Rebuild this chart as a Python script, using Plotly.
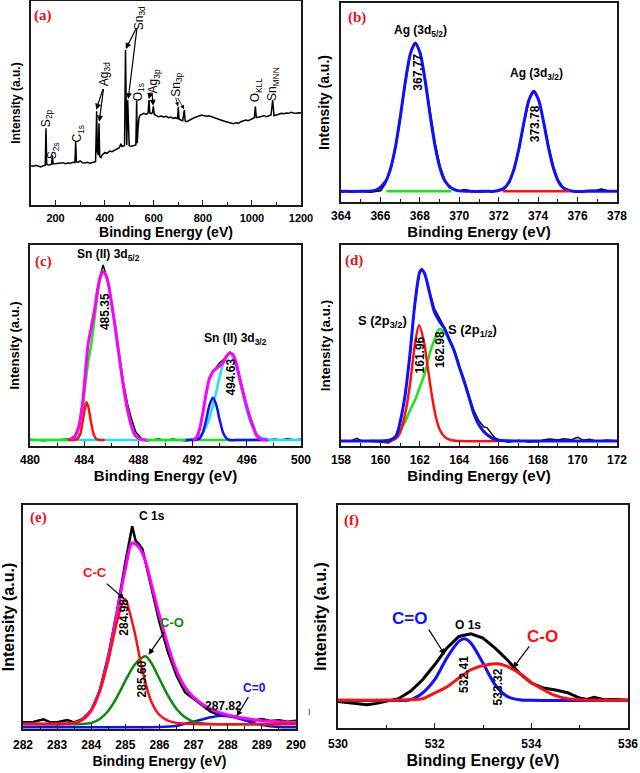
import plotly.graph_objects as go

W, H = 640, 773

# ---------------- (a) survey spectrum ----------------
survey_ev = [100, 110, 120, 130, 140, 150, 158, 161, 164, 170, 180, 184, 187, 190, 200, 210, 220, 230, 240, 250,
             260, 270, 279, 282, 285, 290, 300, 310, 320, 330, 340, 350, 358, 363, 367.5, 370, 374, 377, 380, 385,
             390, 400, 410, 420, 430, 440, 450, 460, 466, 470, 476, 481, 485, 488, 490, 494, 497, 500, 510, 520,
             527, 530.5, 533, 536, 540, 545, 550, 560, 570, 577, 580.7, 584, 590, 595, 598.4, 602, 610, 620, 630, 640,
             650, 660, 670, 680, 690, 697, 700, 703, 710, 718, 724.6, 728, 735, 745, 755, 765, 775, 785, 795, 805,
             815, 825, 835, 845, 855, 865, 875, 885, 895, 905, 915, 925, 935, 945, 955, 965, 975, 985, 995, 1005,
             1010, 1014, 1018, 1030, 1040, 1050, 1060, 1070, 1078, 1084.5, 1090, 1100, 1110, 1120, 1130, 1140, 1150, 1160, 1170, 1180,
             1190, 1200]
survey_counts = [118, 116, 119, 117, 114, 118, 119, 230, 122, 120, 121, 124, 149, 123, 124, 126, 125, 127, 124, 126,
                 125, 128, 127, 191, 130, 128, 132, 127, 126, 128, 125, 127, 128, 130, 281, 160, 150, 245, 145, 142,
                 150, 157, 155, 162, 160, 165, 168, 172, 184, 176, 178, 178, 465, 182, 180, 315, 180, 178, 176, 178,
                 180, 313, 185, 230, 262, 270, 272, 275, 272, 276, 315, 276, 274, 277, 296, 272, 268, 265, 267, 264,
                 266, 262, 264, 260, 262, 258, 295, 258, 255, 253, 285, 252, 250, 255, 258, 262, 265, 268, 270, 268,
                 266, 268, 265, 262, 260, 258, 255, 252, 250, 248, 246, 244, 247, 245, 250, 252, 255, 253, 257, 260,
                 262, 295, 262, 264, 266, 268, 265, 268, 270, 315, 268, 270, 272, 275, 274, 276, 275, 278, 276, 275,
                 277, 276]

# ---------------- (b) Ag 3d ----------------
b_data_ev = [364, 364.5, 365, 365.5, 366, 366.27, 366.52, 366.77, 367.02, 367.27, 367.52, 367.77, 368.02, 368.27,
             368.52, 368.77, 369.02, 369.27, 369.5, 370, 370.3, 370.6, 371, 371.5, 372, 372.28, 372.53, 372.78,
             373.03, 373.28, 373.53, 373.78, 374.03, 374.28, 374.53, 374.78, 375.03, 375.28, 375.6, 376, 376.5,
             377, 377.2, 377.5, 378]
b_data = [31, 33, 32, 30, 34, 58, 98, 165, 258, 362, 446, 478, 448, 368, 268, 175, 106, 64, 44, 33, 37, 32, 31, 33,
          34, 40, 58, 97, 160, 238, 306, 333, 306, 240, 165, 104, 63, 43, 34, 32, 33, 35, 38, 34, 33]
b_fit_ev = [364, 365, 365.77, 366.27, 366.52, 366.77, 367.02, 367.27, 367.52, 367.77, 368.02, 368.27, 368.52,
            368.77, 369.02, 369.27, 369.77, 370.5, 371.5, 371.78, 372.28, 372.53, 372.78, 373.03, 373.28, 373.53,
            373.78, 374.03, 374.28, 374.53, 374.78, 375.03, 375.28, 375.78, 376.5, 377.2, 378]
b_fit = [32, 32, 36, 63, 102, 168, 261, 363, 445, 477, 445, 363, 261, 168, 102, 63, 36, 32, 32, 32, 42, 61, 100,
         162, 239, 305, 332, 305, 239, 162, 100, 61, 42, 32, 32, 32, 32]
b_green_ev = [366.3, 369.6]
b_green = [32, 32]
b_red_ev = [372.2, 375.6]
b_red = [32, 32]

# ---------------- (c) Sn 3d ----------------
c_ev = [480, 480.5, 481, 481.5, 482, 482.5, 483, 483.3, 483.6, 483.9, 484.1, 484.3, 484.5, 484.8, 485.0, 485.2,
        485.4, 485.6, 485.8, 486.0, 486.3, 486.6, 486.9, 487.2, 487.5, 487.8, 488.2, 488.6, 489, 489.5, 490, 490.5,
        491, 491.5, 492, 492.25, 492.5, 492.75, 493, 493.25, 493.5, 493.75, 494, 494.25, 494.5, 494.75, 495, 495.25,
        495.5, 495.75, 496, 496.25, 496.5, 496.75, 497, 497.5, 498, 498.5, 499, 499.5, 500]
c_data = [2, 0, -2, 1, 0, 2, 4, 12, 42, 120, 210, 292, 335, 405, 455, 495, 525, 500, 468, 418, 338, 250, 172, 108,
          62, 25, 5, -3, 0, 4, -2, 3, 0, -3, 2, 6, 30, 82, 140, 188, 205, 220, 232, 240, 254, 264, 256, 228, 184, 142,
          104, 70, 40, 15, 4, -2, 3, 0, 4, 1, 2]
c_env = [None, None, None, None, None, None, 3, 10, 40, 118, 210, 290, 332, 400, 455, 492, 505, 495, 465, 415, 335,
         245, 160, 90, 40, 12, 2, 0, None, None, None, None, None, None, 0, 5, 30, 80, 140, 185, 205, 215, 222, 232,
         250, 260, 255, 225, 180, 138, 100, 65, 35, 12, 3, 0, None, None, None, None, None]
c_green_ev = [480, 482.5, 483, 483.3, 483.6, 483.9, 484.1, 484.3, 484.5, 484.8, 485.0, 485.2, 485.4, 485.6, 485.8,
              486.0, 486.3, 486.6, 486.9, 487.2, 487.5, 487.8, 488.2, 488.6, 490, 492, 494, 497]
c_green = [0, 0, 1, 8, 35, 100, 170, 235, 280, 375, 440, 485, 505, 495, 465, 415, 335, 245, 160, 90, 40, 12, 2, 0,
           0, 0, 0, 0]
c_red_ev = [482.8, 483.2, 483.5, 483.7, 483.9, 484.0, 484.16, 484.3, 484.5, 484.7, 484.9, 485.2, 485.5]
c_red = [0, 0, 4, 17, 59, 82, 113, 100, 54, 17, 3, 0, 0]
c_cyan_ev = [480, 484, 488, 491, 492, 492.5, 492.75, 493, 493.25, 493.5, 493.75, 494, 494.25, 494.5, 494.75, 495,
             495.25, 495.5, 495.75, 496, 496.25, 496.5, 496.75, 497, 497.5, 498, 500]
c_cyan = [0, 0, 0, 0, 2, 11, 22, 40, 67, 103, 145, 190, 228, 253, 260, 245, 214, 172, 128, 87, 55, 32, 17, 9, 2, 0, 0]
c_blue_ev = [491.5, 492.5, 492.75, 493.0, 493.25, 493.5, 493.75, 494.0, 494.25, 494.5, 494.75, 495.5, 497.5]
c_blue = [0, 4, 22, 60, 105, 127, 105, 60, 22, 5, 0, 0, 0]

# ---------------- (d) S 2p ----------------
d_data_ev = [158, 158.5, 158.8, 159.1, 159.5, 160, 160.4, 160.7, 161.0, 161.25, 161.5, 161.75, 162.0, 162.1, 162.25,
             162.5, 162.75, 163.0, 163.25, 163.5, 163.75, 164.0, 164.25, 164.5, 164.75, 165.0, 165.25, 165.4, 165.6,
             165.8, 166.1, 166.5, 167, 167.5, 168, 168.3, 168.6, 169, 169.3, 169.7, 170, 170.3, 170.6, 171, 171.5, 172]
d_data = [1, 0, 8, -1, 1, -3, -6, 5, 52, 132, 258, 410, 510, 516, 503, 447, 395, 368, 340, 305, 271, 224, 180, 135,
          90, 60, 42, 40, 25, 10, 1, -4, 2, -3, -2, 4, 6, 3, 7, 4, 11, 2, 5, -1, 3, 0]
d_fit_ev = [158, 159, 160, 160.5, 160.8, 161.0, 161.25, 161.5, 161.75, 162.0, 162.1, 162.25, 162.5, 162.75, 163.0,
            163.25, 163.5, 163.75, 164.0, 164.25, 164.5, 164.75, 165.0, 165.25, 165.5, 165.75, 166.0, 167, 168, 170, 172]
d_fit = [0, 0, 0, 3, 15, 57, 137, 262, 412, 507, 512, 500, 442, 385, 358, 337, 303, 269, 222, 178, 130, 80, 48, 28,
         15, 6, 2, 0, 0, 0, 0]
d_red_ev = [159.5, 160.5, 160.8, 161.0, 161.25, 161.5, 161.75, 161.96, 162.2, 162.4, 162.6, 162.8, 163.0, 163.3,
            163.6, 164.0, 166]
d_red = [0, 0, 8, 25, 80, 170, 290, 347, 300, 220, 140, 75, 35, 10, 2, 0, 0]
d_green_ev = [159.5, 160.5, 160.75, 161.0, 161.25, 161.5, 161.75, 162.0, 162.25, 162.5, 162.75, 162.98, 163.25,
              163.5, 163.75, 164.0, 164.25, 164.5, 164.75, 165.0, 165.25, 165.5, 165.75, 166.0, 166.5]
d_green = [0, 3, 12, 32, 57, 92, 122, 162, 202, 262, 305, 335, 325, 300, 268, 222, 178, 130, 80, 48, 28, 15, 6, 2, 0]

# ---------------- (e) C 1s ----------------
e_data_ev = [282.0, 282.3, 282.6, 282.8, 283.0, 283.3, 283.5, 283.75, 284.0, 284.25, 284.5, 284.75, 285.0, 285.1,
             285.2, 285.3, 285.4, 285.5, 285.75, 286.0, 286.25, 286.5, 286.75, 287.0, 287.25, 287.5, 287.75, 288.0,
             288.25, 288.5, 288.75, 289.0, 289.25, 289.5, 289.75, 290.0]
e_data = [20, 21, 29, 20, 20, 27, 20, 30, 55, 115, 220, 350, 500, 560, 608, 565, 555, 540, 430, 320, 230, 160, 110,
          90, 70, 52, 42, 40, 35, 28, 25, 30, 24, 26, 22, 25]
e_env_ev = [282, 283, 283.5, 283.75, 284.0, 284.25, 284.5, 284.75, 285.0, 285.2, 285.4, 285.6, 285.75, 286.0, 286.25,
            286.5, 286.75, 287.0, 287.25, 287.5, 287.75, 288.0, 288.5, 289, 290]
e_env = [15, 15, 18, 28, 55, 115, 215, 345, 480, 558, 545, 500, 440, 340, 250, 175, 125, 95, 75, 60, 50, 42, 32, 25, 20]
e_cc_ev = [282, 283, 283.5, 283.75, 284.0, 284.25, 284.5, 284.75, 284.98, 285.25, 285.5, 285.75, 286.0, 286.25,
           286.5, 287, 290]
e_cc = [15, 15, 18, 30, 58, 115, 205, 320, 390, 300, 175, 85, 42, 25, 18, 15, 15]
e_co_ev = [282, 283.75, 284.0, 284.25, 284.5, 284.75, 285.0, 285.25, 285.5, 285.6, 285.75, 286.0, 286.25, 286.5,
           286.75, 287.0, 287.25, 287.5, 290]
e_co = [15, 15, 18, 30, 55, 95, 145, 190, 215, 218, 200, 150, 100, 60, 35, 22, 17, 15, 15]
e_c0_ev = [282, 285, 286.0, 286.5, 287.0, 287.5, 287.82, 288.25, 288.5, 288.75, 289.0, 289.5, 290]
e_c0 = [5, 5, 6, 10, 22, 35, 40, 34, 26, 18, 12, 6, 5]

# ---------------- (f) O 1s ----------------
f_data_ev = [530.0, 530.3, 530.6, 530.8, 531.0, 531.25, 531.5, 531.75, 532.0, 532.25, 532.5, 532.75, 533.0, 533.25,
             533.5, 533.75, 534.0, 534.25, 534.5, 534.75, 535.0, 535.15, 535.3, 535.5, 535.75, 536.0]
f_data = [80, 76, 70, 74, 80, 88, 110, 145, 190, 240, 275, 283, 270, 240, 205, 165, 135, 120, 114, 106, 90, 86, 92,
          85, 86, 83]
f_cdo_ev = [530, 531, 531.5, 531.75, 532.0, 532.25, 532.5, 532.62, 532.75, 533.0, 533.25, 533.5, 533.75, 534.0, 536]
f_cdo = [83, 83, 85, 105, 145, 210, 260, 268, 255, 195, 130, 95, 85, 83, 83]
f_co_ev = [530, 531.5, 531.75, 532.0, 532.25, 532.5, 532.75, 533.0, 533.3, 533.5, 533.75, 534.0, 534.25, 534.5,
           534.75, 535.0, 536]
f_co = [83, 85, 88, 105, 123, 150, 175, 188, 193, 185, 165, 137, 115, 97, 88, 85, 83]

# ---------------- figure ----------------
SANS = "Liberation Sans, Arial, sans-serif"
NARROW = "Liberation Sans Narrow, Arial Narrow, Liberation Sans, Arial, sans-serif"
SERIF = "Liberation Serif, Times New Roman, serif"

BLACK = "#000000"
BLUE = "#1010ff"
RED = "#ff1010"
LIME = "#19e619"
MAGENTA = "#ff00ff"
CYAN = "#19e6e6"
DGREEN = "#0a8a0a"

fig = go.Figure()

def dom_x(l, r):
    return [l / W, r / W]

def dom_y(t, b):
    return [1 - b / H, 1 - t / H]

panels = {
    # id: (x-dom px, y-dom px, x range, y range, dtick, minor, tick size, x-title size, y-title size, family,
    #      title standoff, tick-label standoff)
    "": ((31, 301), (1, 205), (100, 1200), (0, 612), 200, 100, 11, 14, 12, SANS, 3, 2),
    "2": ((341, 617), (3, 202), (364, 378), (0, 597), 2, 1, 12, 15, 14, SANS, 3, 2),
    "3": ((30, 301), (245, 446), (480, 500), (-18, 585), 4, 2, 12, 15, 13, SANS, 3, 2),
    "4": ((341, 617), (245, 446), (158, 172), (-15, 587), 2, 1, 12, 15, 13.5, SANS, 3, 2),
    "5": ((23, 296), (505, 729), (282, 290), (0, 672), 1, 0.5, 12, 14, 16, NARROW, 5, 4),
    "6": ((338, 628), (505, 728), (530, 536), (0, 670), 2, 1, 12, 16, 16, SANS, 5, 4),
}

layout_axes = {}
for pid, (xd, yd, xr, yr, dt, mdt, tfs, tts, yts, fam, so, tso) in panels.items():
    layout_axes["xaxis" + pid] = dict(
        domain=dom_x(*xd), range=list(xr), anchor="y" + pid,
        showline=True, mirror=True, linecolor="#1a1a1a", linewidth=1.5,
        ticks="inside", ticklen=5, tickwidth=1.2, tickcolor="#1a1a1a",
        tick0=xr[0] if pid != "" else 200, dtick=dt, ticklabelstandoff=tso,
        minor=dict(ticks="inside", ticklen=3, tickwidth=1, tickcolor="#1a1a1a", dtick=mdt, showgrid=False),
        showgrid=False, zeroline=False, automargin=False,
        tickfont=dict(family=fam, size=tfs, color=BLACK, weight="bold"),
        title=dict(text="Binding Energy (eV)", standoff=so,
                   font=dict(family=fam, size=tts, color=BLACK, weight="bold")),
    )
    layout_axes["yaxis" + pid] = dict(
        domain=dom_y(*yd), range=list(yr), anchor="x" + pid,
        showline=True, mirror=True, linecolor="#1a1a1a", linewidth=1.5,
        ticks="", showticklabels=False, showgrid=False, zeroline=False, automargin=False,
        title=dict(text="Intensity (a.u.)", standoff=6,
                   font=dict(family=SANS, size=yts, color=BLACK, weight="bold")),
    )

def line(pid, x, y, color, width, shape="spline", name=""):
    fig.add_trace(go.Scatter(
        x=x, y=y, mode="lines", name=name, showlegend=False,
        line=dict(color=color, width=width, shape=shape, smoothing=0.8 if shape == "spline" else None),
        xaxis="x" + pid, yaxis="y" + pid, hoverinfo="skip"))

# (a)
line("", survey_ev, survey_counts, BLACK, 1.5, "linear", "Survey")
# (b)
line("2", b_data_ev, b_data, BLACK, 2.0, "linear", "Ag 3d data")
line("2", b_fit_ev, b_fit, BLUE, 3.0, "spline", "Ag 3d fit")
line("2", b_green_ev, b_green, LIME, 2.5, "linear", "Ag 3d5/2 base")
line("2", b_red_ev, b_red, RED, 2.5, "linear", "Ag 3d3/2 base")
# (c)
line("3", c_ev, c_data, BLACK, 1.5, "linear", "Sn 3d data")
line("3", c_cyan_ev, c_cyan, CYAN, 2.5, "spline", "Sn 3d3/2 (a)")
line("3", c_green_ev, c_green, LIME, 2.5, "spline", "Sn 3d5/2 (a)")
line("3", c_red_ev, c_red, RED, 2.5, "spline", "Sn 3d5/2 (b)")
line("3", c_blue_ev, c_blue, BLUE, 2.5, "spline", "Sn 3d3/2 (b)")
line("3", c_ev, c_env, MAGENTA, 3.0, "spline", "Sn 3d envelope")
# (d)
line("4", d_data_ev, d_data, BLACK, 1.5, "linear", "S 2p data")
line("4", d_green_ev, d_green, LIME, 2.5, "spline", "S 2p1/2")
line("4", d_red_ev, d_red, RED, 2.5, "spline", "S 2p3/2")
line("4", d_fit_ev, d_fit, BLUE, 3.0, "spline", "S 2p fit")
# (e)
line("5", e_data_ev, e_data, BLACK, 2.5, "linear", "C 1s data")
line("5", e_c0_ev, e_c0, BLUE, 2.5, "spline", "C=O")
line("5", e_env_ev, e_env, MAGENTA, 3.0, "spline", "C 1s envelope")
line("5", e_co_ev, e_co, DGREEN, 2.5, "spline", "C-O")
line("5", e_cc_ev, e_cc, RED, 2.5, "spline", "C-C")
# (f)
line("6", f_data_ev, f_data, BLACK, 3.0, "linear", "O 1s data")
line("6", f_cdo_ev, f_cdo, BLUE, 3.0, "spline", "C=O")
line("6", f_co_ev, f_co, RED, 3.0, "spline", "C-O")

ann = []

def txt(pid, x, y, text, size=12, color=BLACK, angle=0, family=SANS, bold=True):
    ann.append(dict(xref="x" + pid, yref="y" + pid, x=x, y=y, text=text, showarrow=False,
                    textangle=angle, xanchor="center", yanchor="middle",
                    font=dict(family=family, size=size, color=color, weight="bold" if bold else "normal")))

def arrow(pid, x, y, ax, ay, color=BLACK, width=1.2):
    ann.append(dict(xref="x" + pid, yref="y" + pid, axref="x" + pid, ayref="y" + pid,
                    x=x, y=y, ax=ax, ay=ay, text="", showarrow=True,
                    arrowhead=2, arrowsize=1.0, arrowwidth=width, arrowcolor=color))

# panel letters
txt("", 149, 569, "(a)", 15, "#e8101a", family=SERIF)
txt("2", 364.8, 555, "(b)", 15, "#e8101a", family=SERIF)
txt("3", 480.98, 535, "(c)", 15, "#e8101a", family=SERIF)
txt("4", 158.64, 542, "(d)", 15, "#e8101a", family=SERIF)
txt("5", 282.46, 635, "(e)", 15, "#e8101a", family=SERIF)
txt("6", 530.28, 623, "(f)", 15, "#e8101a", family=SERIF)

# (a) peak labels (rotated)
A_FS = 12
txt("", 163, 262, "S<sub>2p</sub>", A_FS, angle=-90, bold=False)
txt("", 191, 162, "S<sub>2s</sub>", A_FS, angle=-90, bold=False)
txt("", 291, 214, "C<sub>1s</sub>", A_FS, angle=-90, bold=False)
txt("", 401, 392, "Ag<sub>3d</sub>", A_FS, angle=-90, bold=False)
arrow("", 366, 286, 395, 352)
arrow("", 378, 250, 396, 352)
txt("", 544, 560, "Sn<sub>3d</sub>", A_FS, angle=-90, bold=False)
arrow("", 486, 468, 530, 532)
arrow("", 496, 318, 532, 532)
txt("", 540, 338, "O<sub>1s</sub>", A_FS, angle=-90, bold=False)
txt("", 600, 370, "Ag<sub>3p</sub>", A_FS, angle=-90, bold=False)
arrow("", 580, 318, 588, 342)
arrow("", 598, 298, 592, 342)
txt("", 694, 360, "Sn<sub>3p</sub>", A_FS, angle=-90, bold=False)
arrow("", 699, 296, 688, 326, width=0.8)
arrow("", 724, 287, 694, 326, width=0.8)
txt("", 1018, 345, "O<sub>KLL</sub>", A_FS, angle=-90, bold=False)
txt("", 1089, 362, "Sn<sub>MNN</sub>", A_FS, angle=-90, bold=False)

# (b)
txt("2", 368.02, 513, "Ag (3d<sub>5/2</sub>)", 12)
txt("2", 367.89, 390, "367.77", 12, angle=-90)
txt("2", 373.94, 383, "Ag (3d<sub>3/2</sub>)", 12)
txt("2", 373.82, 235, "373.78", 12, angle=-90)

# (c)
txt("3", 485.78, 555, "Sn (II) 3d<sub>5/2</sub>", 12)
txt("3", 485.49, 385, "485.35", 12, angle=-90)
txt("3", 495.13, 302, "Sn (II) 3d<sub>3/2</sub>", 12)
txt("3", 494.83, 190, "494.63", 12, angle=-90)

# (d)
txt("4", 160.08, 357, "S (2p<sub>3/2</sub>)", 13)
txt("4", 164.65, 330, "S (2p<sub>1/2</sub>)", 13)
txt("4", 162.02, 257, "161.96", 12, angle=-90)
txt("4", 163.0, 274, "162.98", 12, angle=-90)

# (e)
txt("5", 285.78, 638, "C 1s", 12)
txt("5", 284.12, 470, "C-C", 13, RED)
arrow("5", 284.97, 390, 284.41, 440)
txt("5", 284.97, 335, "284.98", 12, angle=-90)
txt("5", 286.36, 320, "C-O", 13, DGREEN)
arrow("5", 285.68, 223, 286.17, 295)
txt("5", 285.5, 150, "285.60", 12, angle=-90)
txt("5", 288.77, 123, "C=0", 12, BLUE)
arrow("5", 288.26, 38, 288.63, 100)
txt("5", 287.87, 68, "287.82", 12)
ann.append(dict(xref="paper", yref="paper", x=309 / W, y=1 - 719 / H, text="I", showarrow=False,
                font=dict(family=SANS, size=9, color="#333333")))

# (f)
txt("6", 531.48, 330, "C=O", 17, BLUE)
arrow("6", 532.21, 220, 531.86, 300)
txt("6", 532.69, 310, "O 1s", 12)
txt("6", 532.61, 160, "532.41", 12, angle=-90)
txt("6", 534.24, 275, "C-O", 17, RED)
arrow("6", 533.62, 180, 533.98, 250)
txt("6", 533.31, 125, "533.32", 12, angle=-90)

fig.update_layout(
    width=W, height=H,
    margin=dict(l=0, r=0, t=0, b=0),
    paper_bgcolor="white", plot_bgcolor="white",
    showlegend=False,
    annotations=ann,
    **layout_axes,
)

fig.write_html("out.html",
               config={"displayModeBar": False},
               post_script="document.body.style.margin='0';document.body.style.overflow='hidden';")
